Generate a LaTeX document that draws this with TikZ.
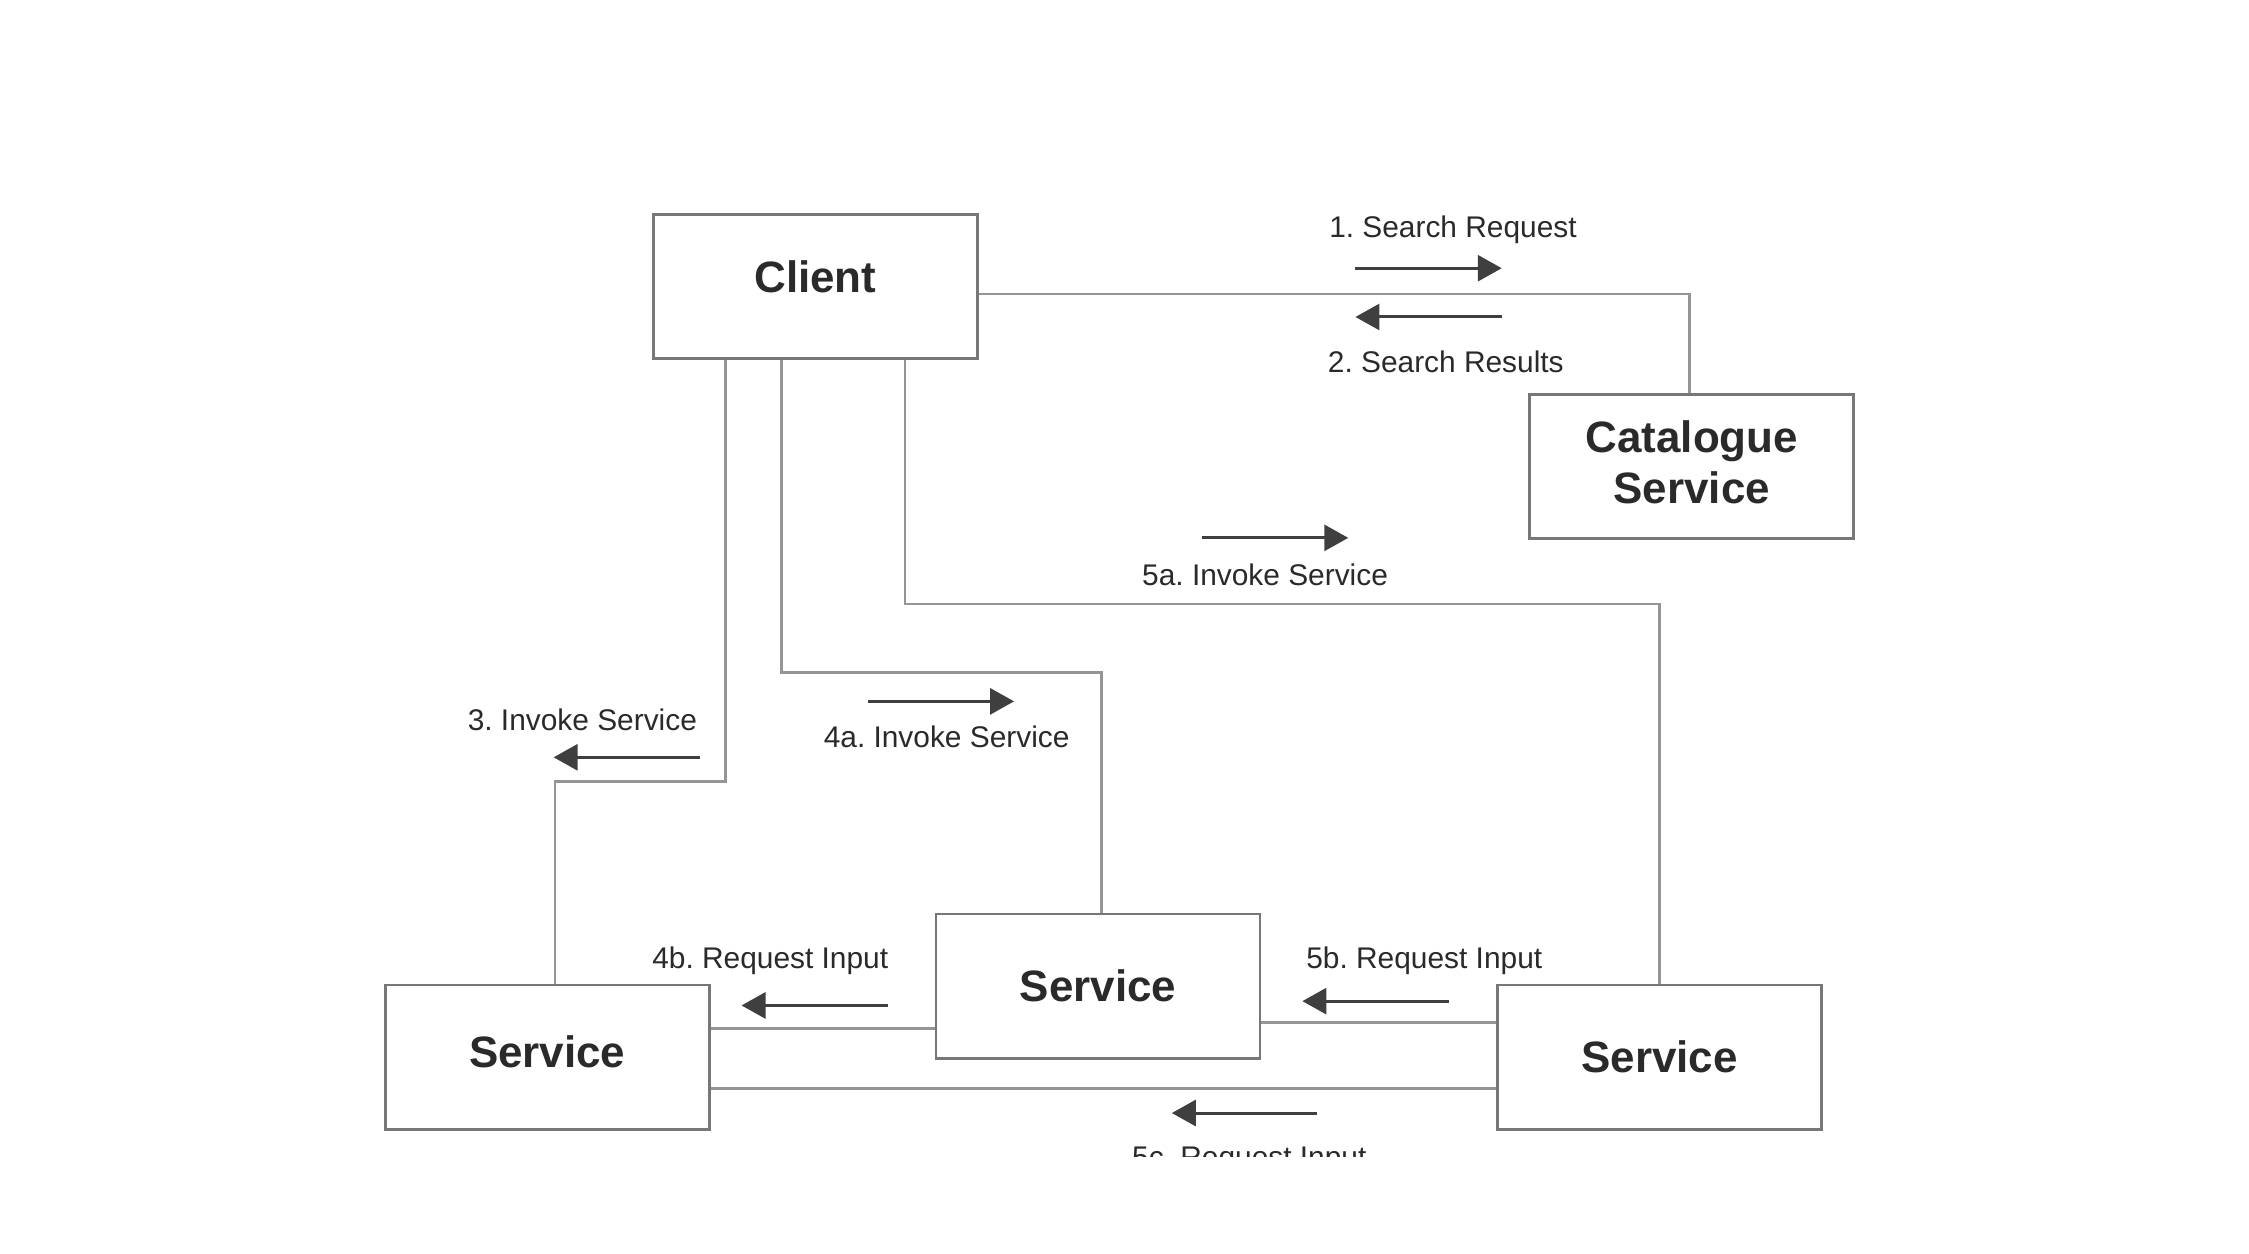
\documentclass[tikz,border=0pt]{standalone}
\usepackage{fontspec}
\setmainfont{Liberation Sans}
\usetikzlibrary{arrows.meta}
\definecolor{boxgray}{HTML}{777777}
\definecolor{linegray}{HTML}{959595}
\definecolor{ink}{HTML}{2A2A2A}
\frenchspacing
\begin{document}
\begin{tikzpicture}[x=0.14343mm,y=-0.14343mm,
  box/.style={draw=boxgray, line width=0.8pt, minimum width=32.4mm, minimum height=14.4mm,
    inner sep=0pt, align=center, text=ink, font=\fontsize{12.5}{14.5}\selectfont\bfseries},
  conn/.style={draw=linegray, line width=0.75pt},
  arr/.style={draw=ink!90, line width=0.85pt, -{Triangle[length=2.4mm,width=2.6mm]}},
  lbl/.style={text=ink, font=\fontsize{8.5}{10}\selectfont, inner sep=0pt}]
\useasboundingbox (0,0) rectangle (1568,874);
\fill[white] (0,0) rectangle (1568,874);
% boxes
\node[box] (client) at (568.5,200) {\raisebox{2mm}{Client}};
\node[box] (cat) at (1179.5,325) {\raisebox{0.8mm}{\shortstack{Catalogue\\[-0.1mm]Service}}};
\node[box] (svcM) at (765.5,687.5) {\raisebox{-0.8mm}{Service}};
\node[box] (svcL) at (381.5,737) {\raisebox{1.1mm}{Service}};
\node[box] (svcR) at (1157,737) {Service};
% bend coordinates
\coordinate (k1) at (1178,205);
\coordinate (k3) at (506,545);
\coordinate (k3b) at (387,545);
\coordinate (k4) at (545,469);
\coordinate (k4b) at (768,469);
\coordinate (k5) at (631,421);
\coordinate (k5b) at (1157,421);
\coordinate (k6) at (600,717);
\coordinate (k7) at (960,713);
\coordinate (k8) at (760,759);
% connectors
\draw[conn] (client.east |- k1) -- (k1) -- (k1 |- cat.north);
\draw[conn] (client.south -| k3) -- (k3) -- (k3b) -- (k3b |- svcL.north);
\draw[conn] (client.south -| k4) -- (k4) -- (k4b) -- (k4b |- svcM.north);
\draw[conn] (client.south -| k5) -- (k5) -- (k5b) -- (k5b |- svcR.north);
\draw[conn] (svcM.west |- k6) -- (svcL.east |- k6);
\draw[conn] (svcR.west |- k7) -- (svcM.east |- k7);
\draw[conn] (svcR.west |- k8) -- (svcL.east |- k8);
% direction arrows
\coordinate (a1s) at (945,187); \coordinate (a1e) at (1047,187);
\coordinate (a2s) at (1047,221); \coordinate (a2e) at (945,221);
\coordinate (a3s) at (488,528); \coordinate (a3e) at (386,528);
\coordinate (a4s) at (605,489); \coordinate (a4e) at (707,489);
\coordinate (a5s) at (838,375); \coordinate (a5e) at (940,375);
\coordinate (a6s) at (619,701); \coordinate (a6e) at (517,701);
\coordinate (a7s) at (1010,698); \coordinate (a7e) at (908,698);
\coordinate (a8s) at (918,776); \coordinate (a8e) at (817,776);
\draw[arr] (a1s) -- (a1e);
\draw[arr] (a2s) -- (a2e);
\draw[arr] (a3s) -- (a3e);
\draw[arr] (a4s) -- (a4e);
\draw[arr] (a5s) -- (a5e);
\draw[arr] (a6s) -- (a6e);
\draw[arr] (a7s) -- (a7e);
\draw[arr] (a8s) -- (a8e);
% labels
\node[lbl] (l1) at (1013,160) {1. Search Request};
\node[lbl] (l2) at (1008,252) {2. Search Results};
\node[lbl] (l3) at (406,502) {3. Invoke Service};
\node[lbl] (l4a) at (660,514) {4a. Invoke Service};
\node[lbl] (l5a) at (882,401) {5a. Invoke Service};
\node[lbl] (l4b) at (537,670) {4b. Request Input};
\node[lbl] (l5b) at (993,670) {5b. Request Input};
\begin{scope}
\clip (0,0) rectangle (1568,806);
\node[lbl, anchor=north] (l5c) at (871,799) {5c. Request Input};
\end{scope}
\end{tikzpicture}
\end{document}
